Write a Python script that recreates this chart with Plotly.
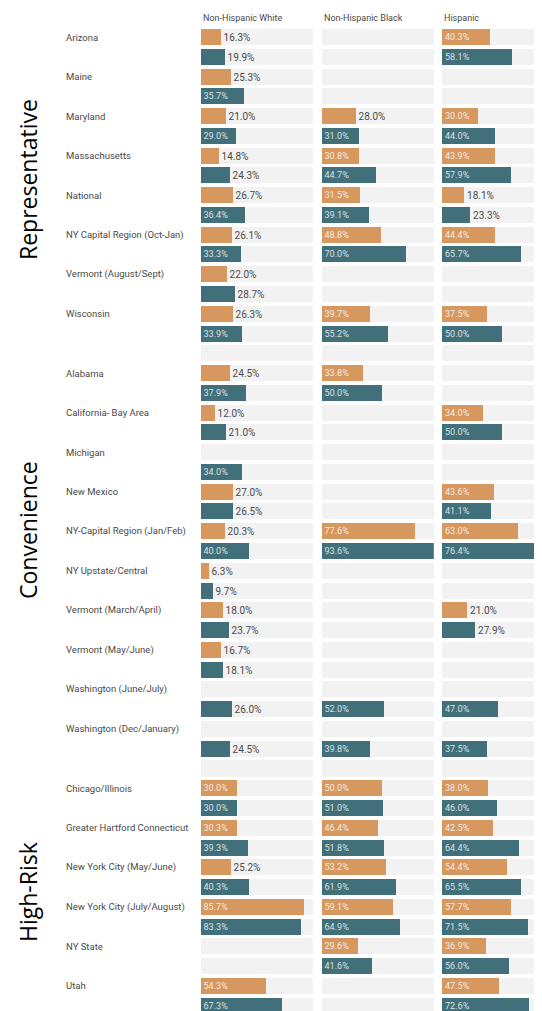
import plotly.graph_objects as go

# ---------------- data ----------------
columns = ["Non-Hispanic White", "Non-Hispanic Black", "Hispanic"]
groups = ["Representative", "Convenience", "High-Risk"]

locations = [
    # Representative
    ["Arizona", "Maine", "Maryland", "Massachusetts", "National",
     "NY Capital Region (Oct-Jan)", "Vermont (August/Sept)", "Wisconsin"],
    # Convenience
    ["Alabama", "California- Bay Area", "Michigan", "New Mexico",
     "NY-Capital Region (Jan/Feb)", "NY Upstate/Central", "Vermont (March/April)",
     "Vermont (May/June)", "Washington (June/July)", "Washington (Dec/January)"],
    # High-Risk
    ["Chicago/Illinois", "Greater Hartford Connecticut", "New York City (May/June)",
     "New York City (July/August)", "NY State", "Utah"],
]

# orange series (first bar of each location), per column, in location order
white_a = [16.3, 25.3, 21.0, 14.8, 26.7, 26.1, 22.0, 26.3,
           24.5, 12.0, None, 27.0, 20.3, 6.3, 18.0, 16.7, None, None,
           30.0, 30.3, 25.2, 85.7, None, 54.3]
white_b = [19.9, 35.7, 29.0, 24.3, 36.4, 33.3, 28.7, 33.9,
           37.9, 21.0, 34.0, 26.5, 40.0, 9.7, 23.7, 18.1, 26.0, 24.5,
           30.0, 39.3, 40.3, 83.3, None, 67.3]
black_a = [None, None, 28.0, 30.8, 31.5, 48.8, None, 39.7,
           33.8, None, None, None, 77.6, None, None, None, None, None,
           50.0, 46.4, 53.2, 59.1, 29.6, None]
black_b = [None, None, 31.0, 44.7, 39.1, 70.0, None, 55.2,
           50.0, None, None, None, 93.6, None, None, None, 52.0, 39.8,
           51.0, 51.8, 61.9, 64.9, 41.6, None]
hisp_a = [40.3, None, 30.0, 43.9, 18.1, 44.4, None, 37.5,
          None, 34.0, None, 43.6, 63.0, None, 21.0, None, None, None,
          38.0, 42.5, 54.4, 57.7, 36.9, 47.5]
hisp_b = [58.1, None, 44.0, 57.9, 23.3, 65.7, None, 50.0,
          None, 50.0, None, 41.1, 76.4, None, 27.9, None, 47.0, 37.5,
          46.0, 64.4, 65.5, 71.5, 56.0, 72.6]

series_a = [white_a, black_a, hisp_a]
series_b = [white_b, black_b, hisp_b]

# ---------------- styling ----------------
W, H = 560, 1011
ORANGE = "#D6985F"
TEAL = "#41707A"
BAND = "#F2F2F2"
LABEL = "#4a4a4a"
INSIDE_MIN = 29.0

# row layout (row index grows downward)
rows_a, rows_b = [], []
r = 0
for gi, locs in enumerate(locations):
    for _ in locs:
        rows_a.append(r)
        rows_b.append(r + 1)
        r += 2
    if gi < len(locations) - 1:
        r += 1
n_rows = r
all_rows = list(range(n_rows))
names = [n for locs in locations for n in locs]

vmax = max(v for s in series_a + series_b for v in s if v is not None)

# pixel geometry (figure coordinates)
px_left = [192.5, 313.5, 434.0]
band_px = 112.3
px_per_unit = band_px / vmax
row0_px, pitch = 29.0, 19.77

fig = go.Figure()

axis_names = ["x", "x2", "x3"]
for ci in range(3):
    xa = axis_names[ci]
    # background bands
    fig.add_trace(go.Bar(
        x=[vmax] * n_rows, y=all_rows, orientation="h", xaxis=xa, yaxis="y",
        marker=dict(color=BAND, line=dict(width=0)), width=0.81,
        hoverinfo="skip", showlegend=False))
    for vals, rows, color in ((series_a[ci], rows_a, ORANGE),
                              (series_b[ci], rows_b, TEAL)):
        text = ["" if v is None else f"{v:.1f}%" for v in vals]
        pos = ["inside" if (v is not None and v >= INSIDE_MIN) else "outside"
               for v in vals]
        fig.add_trace(go.Bar(
            x=vals, y=rows, orientation="h", xaxis=xa, yaxis="y",
            marker=dict(color=color, line=dict(width=0)), width=0.81,
            text=text, textposition=pos, insidetextanchor="start",
            insidetextfont=dict(family="Roboto", size=10, color="rgba(255,255,255,0.82)"),
            outsidetextfont=dict(family="Roboto", size=10, color=LABEL),
            cliponaxis=False, showlegend=False,
            hovertemplate="%{y}: %{x:.1f}%<extra></extra>"))

layout_axes = {}
for ci in range(3):
    left = px_left[ci]
    right = min(left + band_px, W)
    key = "xaxis" if ci == 0 else f"xaxis{ci + 1}"
    layout_axes[key] = dict(
        domain=[left / W, right / W],
        range=[0, (right - left) / px_per_unit],
        visible=False, fixedrange=True, anchor="y")

y_top = -row0_px / pitch
y_bot = (H - row0_px) / pitch
fig.update_layout(
    width=W, height=H,
    margin=dict(l=0, r=0, t=0, b=0),
    paper_bgcolor="white", plot_bgcolor="white",
    barmode="overlay", bargap=0,
    yaxis=dict(range=[y_bot, y_top], visible=False, fixedrange=True, domain=[0, 1]),
    **layout_axes,
)

annotations = []
# column headers
for ci, col in enumerate(columns):
    annotations.append(dict(
        text=col, x=px_left[ci] / W, y=1 - 10 / H, xref="paper", yref="paper",
        xanchor="left", yanchor="middle", showarrow=False,
        font=dict(family="Roboto", size=9, color=LABEL)))
# location labels
for name, row in zip(names, rows_a):
    annotations.append(dict(
        text=name, x=56 / W, y=row, xref="paper", yref="y",
        xanchor="left", yanchor="middle", showarrow=False,
        font=dict(family="Roboto", size=9.5, color=LABEL)))
# group labels
group_center_px = [172, 522, 884]
for g, cy in zip(groups, group_center_px):
    annotations.append(dict(
        text=g, x=20 / W, y=1 - cy / H, xref="paper", yref="paper",
        xanchor="center", yanchor="middle", textangle=-90, showarrow=False,
        font=dict(family="Open Sans", size=23, color="black")))
fig.update_layout(annotations=annotations)

fig.write_html("out.html")
